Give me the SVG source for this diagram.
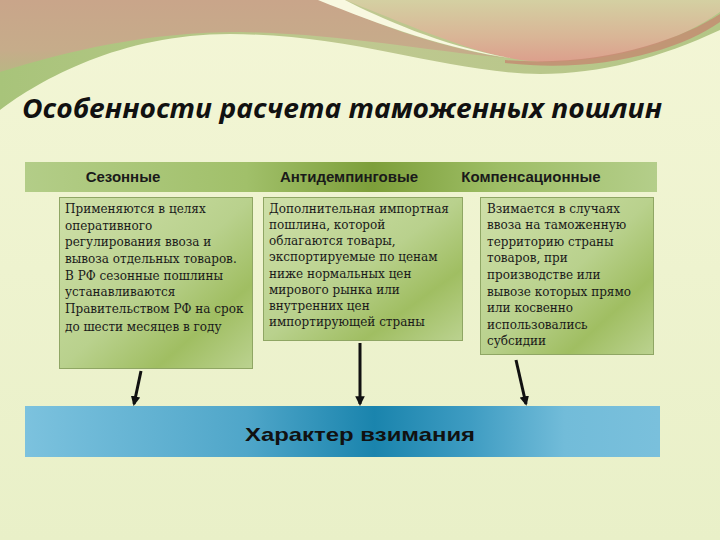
<svg xmlns="http://www.w3.org/2000/svg" width="720" height="540" viewBox="0 0 720 540">
<defs>
<linearGradient id="bg" x1="0" y1="0" x2="0" y2="1">
<stop offset="0" stop-color="#f3f6d6"/><stop offset="1" stop-color="#e9f0c8"/>
</linearGradient>
<linearGradient id="greenband" x1="0" y1="0" x2="1" y2="0">
<stop offset="0" stop-color="#a8c47a"/><stop offset="0.5" stop-color="#bfc890"/><stop offset="1" stop-color="#b3c686"/>
</linearGradient>
<linearGradient id="brown" x1="0" y1="0" x2="0" y2="1">
<stop offset="0" stop-color="#c9a58a"/><stop offset="0.7" stop-color="#c6ac8a"/><stop offset="1" stop-color="#b9b684"/>
</linearGradient>
<linearGradient id="pinkband" x1="0" y1="0" x2="0" y2="1">
<stop offset="0" stop-color="#d4d0a2"/><stop offset="0.6" stop-color="#d9b596"/><stop offset="1" stop-color="#dc9f8c"/>
</linearGradient>
<linearGradient id="hdr" x1="0" y1="0" x2="1" y2="0">
<stop offset="0" stop-color="#b3cd88"/><stop offset="0.35" stop-color="#a1c06a"/><stop offset="0.55" stop-color="#7d9f3a"/><stop offset="0.75" stop-color="#9ebe66"/><stop offset="1" stop-color="#b4ce8a"/>
</linearGradient>
<linearGradient id="box" x1="0" y1="0" x2="1" y2="1">
<stop offset="0" stop-color="#cfe0a9"/><stop offset="0.5" stop-color="#b9d18d"/><stop offset="0.75" stop-color="#a0be62"/><stop offset="1" stop-color="#bbd290"/>
</linearGradient>
<linearGradient id="blue" x1="0" y1="0" x2="1" y2="0">
<stop offset="0" stop-color="#7cc2de"/><stop offset="0.35" stop-color="#4fa6c9"/><stop offset="0.55" stop-color="#1a84ad"/><stop offset="0.7" stop-color="#3e9cc2"/><stop offset="0.85" stop-color="#72bcd9"/><stop offset="1" stop-color="#7ac0dc"/>
</linearGradient>
<marker id="ah" viewBox="0 0 10 10" refX="8" refY="5" markerWidth="3.2" markerHeight="3.2" orient="auto">
<path d="M0,0 L10,5 L0,10 Z" fill="#111"/>
</marker>
<style>
.hl{font-family:"Liberation Sans",Arial,sans-serif;font-weight:bold;font-size:15px;fill:#1a1a1a;text-anchor:middle}
.bt{font-family:"DejaVu Serif","Liberation Serif",serif;font-size:12px;fill:#1a1a1a}
.bx{fill:url(#box);stroke:#8fa664;stroke-width:1}
.ar{stroke:#111;stroke-width:3;fill:none;marker-end:url(#ah)}
</style>
</defs>
<rect width="720" height="540" fill="url(#bg)"/>
<!-- top decorative waves -->
<path d="M0,0 H720 V30 C660,58 600,74 540,74 C440,72 360,35 230,34 C120,34 40,80 0,110 Z" fill="url(#greenband)"/>
<path d="M0,0 H325 C370,22 430,45 505,58 C420,50 340,34 240,32 C150,32 70,50 0,72 Z" fill="url(#brown)"/>
<path d="M345,0 H720 V12 C680,40 620,62 540,62 C500,60 460,45 420,30 C390,18 365,8 345,0 Z" fill="url(#pinkband)"/>
<path d="M318,0 H345 C380,18 440,45 510,58 C450,50 380,25 318,0 Z" fill="#f8f8e0"/>
<path d="M505,60 C600,68 680,40 720,14 V22 C680,50 600,74 505,63 Z" fill="#c48a70" opacity="0.8"/>
<text x="22" y="118" font-family="'Open Sans','DejaVu Sans',sans-serif" font-style="italic" font-weight="bold" font-size="26" fill="#111" textLength="640" lengthAdjust="spacingAndGlyphs">Особенности расчета таможенных пошлин</text>
<g id="header">
<rect x="25" y="162" width="632" height="30" fill="url(#hdr)"/>
<text class="hl" x="123" y="182">Сезонные</text>
<text class="hl" x="349" y="182">Антидемпинговые</text>
<text class="hl" x="531" y="182">Компенсационные</text>
</g>
<g id="box-seasonal">
<rect class="bx" x="59.5" y="197.5" width="193" height="171"/>
<text class="bt" x="65" y="213">Применяются в целях</text>
<text class="bt" x="65" y="230">оперативного</text>
<text class="bt" x="65" y="246">регулирования ввоза и</text>
<text class="bt" x="65" y="263">вывоза отдельных товаров.</text>
<text class="bt" x="65" y="280">В РФ сезонные пошлины</text>
<text class="bt" x="65" y="296">устанавливаются</text>
<text class="bt" x="65" y="313">Правительством РФ на срок</text>
<text class="bt" x="65" y="331">до шести месяцев в году</text>
</g>
<g id="box-antidumping">
<rect class="bx" x="263.5" y="197.5" width="199" height="143"/>
<text class="bt" x="269" y="213">Дополнительная импортная</text>
<text class="bt" x="269" y="229">пошлина, которой</text>
<text class="bt" x="269" y="245">облагаются товары,</text>
<text class="bt" x="269" y="261">экспортируемые по ценам</text>
<text class="bt" x="269" y="278">ниже нормальных цен</text>
<text class="bt" x="269" y="294">мирового рынка или</text>
<text class="bt" x="269" y="310">внутренних цен</text>
<text class="bt" x="269" y="326">импортирующей страны</text>
</g>
<g id="box-compensation">
<rect class="bx" x="480.5" y="197.5" width="173" height="157"/>
<text class="bt" x="487" y="213">Взимается в случаях</text>
<text class="bt" x="487" y="229">ввоза на таможенную</text>
<text class="bt" x="487" y="246">территорию страны</text>
<text class="bt" x="487" y="262">товаров, при</text>
<text class="bt" x="487" y="279">производстве или</text>
<text class="bt" x="487" y="296">вывозе которых прямо</text>
<text class="bt" x="487" y="312">или косвенно</text>
<text class="bt" x="487" y="329">использовались</text>
<text class="bt" x="487" y="345">субсидии</text>
</g>
<g id="bar-collection">
<rect x="25" y="406" width="635" height="51" fill="url(#blue)"/>
<text x="360" y="441" font-family="'Liberation Sans',Arial,sans-serif" font-weight="bold" font-size="19" fill="#111" text-anchor="middle" textLength="230" lengthAdjust="spacingAndGlyphs">Характер взимания</text>
</g>
<g id="connectors">
<line class="ar" x1="141" y1="371" x2="134" y2="404"/>
<line class="ar" x1="360" y1="343" x2="360" y2="404"/>
<line class="ar" x1="516" y1="360" x2="526" y2="404"/>
</g>
</svg>
